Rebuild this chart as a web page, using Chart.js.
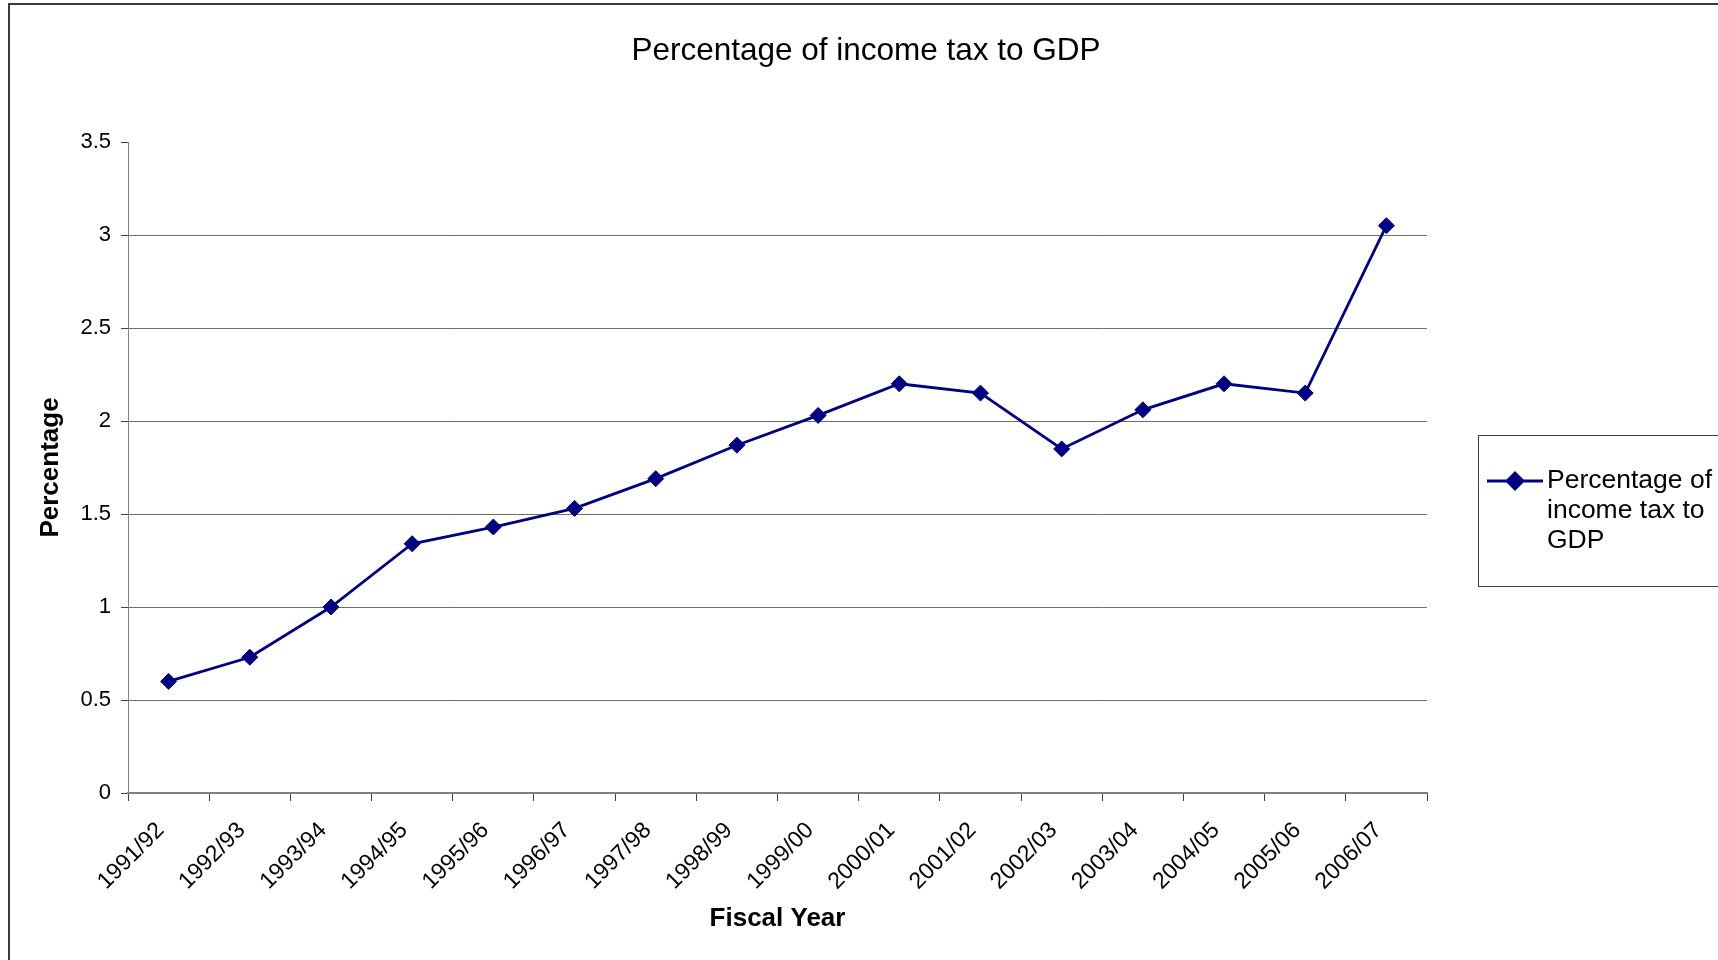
<!DOCTYPE html>
<html>
<head>
<meta charset="utf-8">
<title>Percentage of income tax to GDP</title>
<script src="https://cdn.jsdelivr.net/npm/chart.js@4.4.1/dist/chart.umd.min.js"></script>
<style>
  html, body { margin: 0; padding: 0; background: #fff; }
  canvas { display: block; }
</style>
</head>
<body>
<canvas id="taxChart" width="1718" height="960"></canvas>
<script>
'use strict';

var fiscalYears = ['1991/92', '1992/93', '1993/94', '1994/95', '1995/96', '1996/97', '1997/98', '1998/99',
                   '1999/00', '2000/01', '2001/02', '2002/03', '2003/04', '2004/05', '2005/06', '2006/07'];
var taxToGdp = [0.60, 0.73, 1.00, 1.34, 1.43, 1.53, 1.69, 1.87, 2.03, 2.20, 2.15, 1.85, 2.06, 2.20, 2.15, 3.05];
var yTicks = [0, 0.5, 1, 1.5, 2, 2.5, 3, 3.5];
var chartTitle = 'Percentage of income tax to GDP';
var seriesName = 'Percentage of income tax to GDP';
var legendLines = ['Percentage of', 'income tax to', 'GDP'];

var FONT = "'Liberation Sans', Arial, sans-serif";
var NAVY = '#000080';

// white background, outer frame, title and the boxed legend on the right
var frameAndLegend = {
    id: 'frameAndLegend',
    beforeDraw: function (chart) {
        var ctx = chart.ctx;
        ctx.save();
        ctx.fillStyle = '#fff';
        ctx.fillRect(0, 0, chart.width, chart.height);
        ctx.restore();
    },
    afterDraw: function (chart) {
        var ctx = chart.ctx;
        var ds = chart.data.datasets[0];
        ctx.save();

        // chart frame (runs off the right and bottom edges)
        ctx.strokeStyle = '#3a3a3a';
        ctx.lineWidth = 2;
        ctx.strokeRect(9, 4, chart.width + 20, chart.height + 20);

        // title
        ctx.fillStyle = '#000';
        ctx.font = '31.5px ' + FONT;
        ctx.textAlign = 'center';
        ctx.textBaseline = 'middle';
        ctx.fillText(chartTitle, 866, 51);

        // legend box
        ctx.strokeStyle = '#404040';
        ctx.lineWidth = 1;
        ctx.strokeRect(1478.5, 435.5, 300, 151);

        var ly = 481;
        ctx.strokeStyle = ds.borderColor;
        ctx.lineWidth = ds.borderWidth;
        ctx.beginPath();
        ctx.moveTo(1487, ly);
        ctx.lineTo(1543, ly);
        ctx.stroke();
        Chart.helpers.drawPoint(ctx, {
            pointStyle: 'rectRot',
            radius: ds.pointRadius,
            borderWidth: 1
        }, 1515, ly);
        ctx.fillStyle = ds.pointBackgroundColor;
        ctx.fill();

        ctx.fillStyle = '#000';
        ctx.font = '26.5px ' + FONT;
        ctx.textAlign = 'left';
        ctx.textBaseline = 'middle';
        for (var i = 0; i < legendLines.length; ++i) {
            ctx.fillText(legendLines[i], 1547, ly + i * 29.6);
        }
        ctx.restore();
    }
};

var ctx = document.getElementById('taxChart').getContext('2d');
var taxChart = new Chart(ctx, {
    type: 'line',
    data: {
        labels: fiscalYears,
        datasets: [{
            label: seriesName,
            data: taxToGdp,
            borderColor: NAVY,
            borderWidth: 2.8,
            pointStyle: 'rectRot',
            pointRadius: 8,
            pointBorderWidth: 1,
            pointBackgroundColor: NAVY,
            pointBorderColor: NAVY,
            tension: 0,
            fill: false
        }]
    },
    options: {
        responsive: false,
        animation: false,
        layout: {
            autoPadding: false,
            padding: { left: 20, top: 142, right: 291, bottom: 10 }
        },
        plugins: {
            legend: { display: false },
            title: { display: false },
            tooltip: { enabled: false }
        },
        scales: {
            x: {
                type: 'category',
                offset: true,
                grid: {
                    offset: true,
                    drawOnChartArea: false,
                    drawTicks: true,
                    tickLength: 8,
                    color: '#404040',
                    lineWidth: 1
                },
                border: { color: '#808080', width: 2 },
                ticks: {
                    autoSkip: false,
                    minRotation: 45,
                    maxRotation: 45,
                    padding: 16,
                    labelOffset: -8,
                    color: '#000',
                    font: { family: FONT, size: 23 }
                },
                title: {
                    display: true,
                    text: 'Fiscal Year',
                    color: '#000',
                    font: { family: FONT, size: 26, weight: 'bold' },
                    padding: { top: 0, bottom: 16 }
                },
                afterFit: function (scale) { scale.height = 157; }
            },
            y: {
                min: 0,
                max: 3.5,
                afterBuildTicks: function (scale) {
                    scale.ticks = yTicks.map(function (v) { return { value: v }; });
                },
                grid: {
                    color: function (c) { return c.tick && c.tick.value === 3.5 ? 'rgba(0,0,0,0)' : '#6e6e6e'; },
                    tickColor: '#404040',
                    tickLength: 7,
                    lineWidth: 1
                },
                border: { color: '#808080', width: 1 },
                ticks: {
                    padding: 10,
                    color: '#000',
                    font: { family: FONT, size: 22 },
                    callback: function (v) { return String(v); }
                },
                title: {
                    display: true,
                    text: 'Percentage',
                    color: '#000',
                    font: { family: FONT, size: 26, weight: 'bold' },
                    padding: { top: 15, bottom: 0 }
                },
                afterFit: function (scale) { scale.width = 108; }
            }
        }
    },
    plugins: [frameAndLegend]
});
</script>
</body>
</html>
